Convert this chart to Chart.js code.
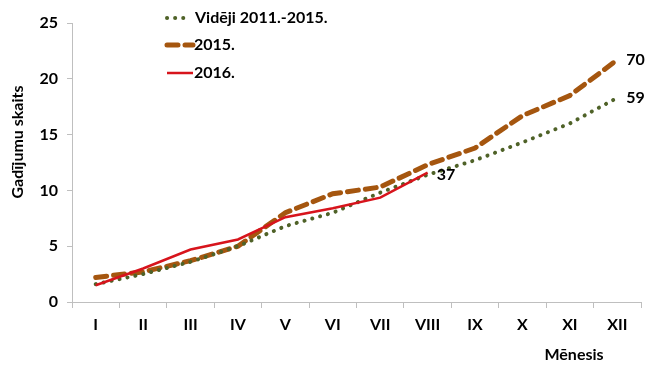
<!DOCTYPE html>
<html><head><meta charset="utf-8">
<script src="https://cdn.jsdelivr.net/npm/chart.js@4/dist/chart.umd.min.js"></script>
<style>html,body{margin:0;padding:0;background:#fff}#wrap{width:656px;height:372px}</style>
</head><body><div id="wrap"><canvas id="c" width="656" height="372"></canvas></div>
<script>
const months = ["I","II","III","IV","V","VI","VII","VIII","IX","X","XI","XII"];
const avg2011_2015 = [1.6,2.5,3.6,5.0,6.8,8.0,9.8,11.4,12.7,14.3,16.0,18.3];
const y2015 = [2.2,2.7,3.7,5.0,8.0,9.7,10.3,12.3,13.8,16.7,18.5,21.7];
const y2016 = [1.5,3.0,4.7,5.6,7.6,8.4,9.35,11.6];
const seriesNames = ["Vidēji 2011.-2015.","2015.","2016."];
const endLabels = ["59","70","37"];
const yTicks = [0,5,10,15,20,25];
const yTitle = "Gadījumu skaits";
const xTitle = "Mēnesis";

const FONT = "Lato, 'Liberation Sans', sans-serif";
const extras = {
  id:'extras',
  afterDatasetsDraw(chart){
    const ctx = chart.ctx;
    ctx.save();
    ctx.font = "bold 16px " + FONT;
    ctx.fillStyle = "#000";
    ctx.textBaseline = "middle";
    ctx.textAlign = "left";
    chart.data.datasets.forEach((ds,i)=>{
      const pts = chart.getDatasetMeta(i).data;
      const p = pts[pts.length-1];
      ctx.fillText(endLabels[i], p.x + 9, p.y + (i===2?2:0));
    });
    // legend
    const lx = 165, ly = [18,45,73];
    chart.data.datasets.forEach((ds,i)=>{
      ctx.beginPath();
      ctx.strokeStyle = ds.borderColor;
      ctx.lineWidth = ds.borderWidth;
      ctx.lineCap = ds.borderCapStyle || 'butt';
      ctx.setLineDash(ds.borderDash || []);
      if(i===0){ ctx.moveTo(lx+2, ly[i]); ctx.lineTo(lx+24, ly[i]); }
      else { ctx.moveTo(lx+2, ly[i]); ctx.lineTo(lx+28, ly[i]); }
      ctx.stroke();
      ctx.setLineDash([]);
      ctx.fillStyle="#000";
      ctx.fillText(seriesNames[i], lx + (i===0?30:29), ly[i]);
    });
    // axis titles
    ctx.textAlign = "center";
    ctx.fillText(xTitle, 574, 355);
    ctx.translate(18, 142);
    ctx.rotate(-Math.PI/2);
    ctx.fillText(yTitle, 0, 0);
    ctx.restore();
  }
};

new Chart(document.getElementById('c'), {
  type:'line',
  data:{
    labels: months,
    datasets:[
      {label:seriesNames[0], data:avg2011_2015, order:1, borderColor:'#4F6228', borderWidth:4, borderDash:[0.1,8], borderCapStyle:'round', pointRadius:0, tension:0, fill:false},
      {label:seriesNames[1], data:y2015, order:2, borderColor:'#A5560F', borderWidth:5, borderDash:[11,7], borderCapStyle:'round', pointRadius:0, tension:0, fill:false},
      {label:seriesNames[2], data:y2016, order:0, borderColor:'#D7141C', borderWidth:2.5, pointRadius:0, tension:0, fill:false}
    ]
  },
  options:{
    responsive:false, animation:false,
    layout:{padding:{top:23,right:15,left:0,bottom:0}},
    plugins:{legend:{display:false}, tooltip:{enabled:false}},
    scales:{
      x:{
        offset:true,
        grid:{display:true, drawOnChartArea:false, offset:true, tickLength:6, color:'#BFBFBF'},
        border:{color:'#BFBFBF', width:1},
        ticks:{font:{family:FONT, size:16, weight:'bold'}, color:'#000', padding:7, maxRotation:0},
        afterFit(s){ s.height = 70; }
      },
      y:{
        min:0, max:25,
        afterBuildTicks(s){ s.ticks = yTicks.map(v=>({value:v})); },
        grid:{display:true, drawOnChartArea:false, tickLength:5, color:'#BFBFBF'},
        border:{color:'#BFBFBF', width:1},
        ticks:{font:{family:FONT, size:16, weight:'bold'}, color:'#000', padding:9},
        afterFit(s){ s.width = 72; }
      }
    }
  },
  plugins:[extras]
});
</script></body></html>
